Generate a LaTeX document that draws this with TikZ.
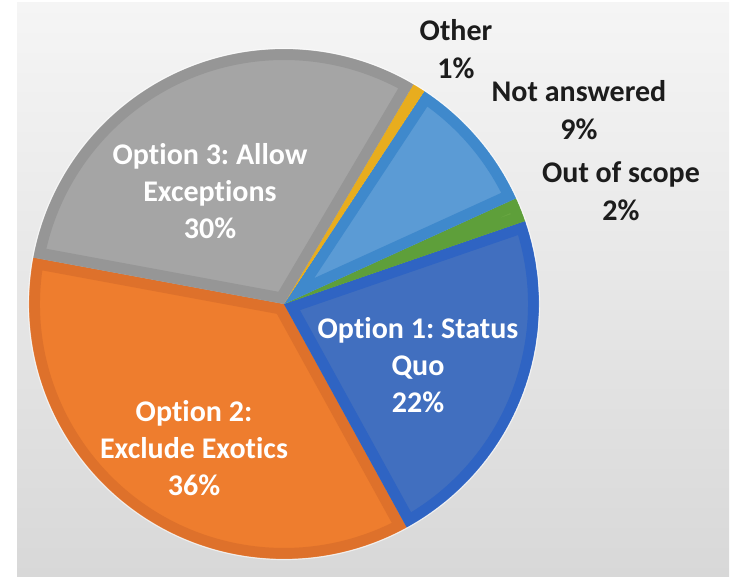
\documentclass[tikz,border=0pt]{standalone}
\usepackage{fontspec}
\setmainfont{Carlito}[Ligatures={NoCommon,NoContextual}]
\frenchspacing
\definecolor{grayL}{HTML}{A5A5A5}
\definecolor{grayD}{HTML}{969696}
\definecolor{orangeL}{HTML}{EE7D2E}
\definecolor{orangeD}{HTML}{DE712B}
\definecolor{blueL}{HTML}{416FBF}
\definecolor{blueD}{HTML}{2F64C3}
\definecolor{lblueL}{HTML}{5B9BD5}
\definecolor{lblueD}{HTML}{3F89CC}
\definecolor{greenL}{HTML}{6AA843}
\definecolor{greenD}{HTML}{5E9F3A}
\definecolor{yellowL}{HTML}{F2B62A}
\definecolor{yellowD}{HTML}{E8AD1E}
\definecolor{panelTop}{HTML}{F5F5F5}
\definecolor{panelBot}{HTML}{D8D8D8}
\definecolor{labeltext}{HTML}{1C1C1C}
\newcommand\mypieslice[4]{%
  \begin{scope}
    \clip (pc) -- ++(#1:255pt) arc[start angle=#1, end angle=#2, radius=255pt] -- cycle;
    \fill[#3] (pc) -- ++(#1:255pt) arc[start angle=#1, end angle=#2, radius=255pt] -- cycle;
    \draw[#4, line width=22pt, line join=miter] (pc) -- ++(#1:255pt) arc[start angle=#1, end angle=#2, radius=255pt] -- cycle;
  \end{scope}}
\tikzset{
  inlabel/.style={text=white, align=center, inner sep=0pt, font=\fontsize{30}{37}\selectfont\bfseries},
  outlabel/.style={text=labeltext, align=center, inner sep=0pt, font=\fontsize{30}{38}\selectfont\bfseries}
}
\begin{document}
\begin{tikzpicture}[x=1pt,y=1pt]
  \useasboundingbox (0,0) rectangle (732,580);
  \fill[white] (0,0) rectangle (732,580);
  \shade[top color=panelTop, bottom color=panelBot] (17,3) rectangle (729,577);
  \coordinate (pc) at (284,276);
  % slices
  \mypieslice{169.5}{298.8}{orangeL}{orangeD}
  \mypieslice{298.8}{379}{blueL}{blueD}
  \mypieslice{379}{384.5}{greenL}{greenD}
  \mypieslice{384.5}{416.6}{lblueL}{lblueD}
  \mypieslice{416.6}{419.5}{yellowL}{yellowD}
  \mypieslice{419.5}{529.5}{grayL}{grayD}
  \draw[white, opacity=0.6, line width=1.2pt] (pc) circle[radius=255.5pt];
  % labels
  \node[inlabel] (opt3) at (210,389) {Option 3: Allow\\Exceptions\\30\%};
  \node[inlabel] (opt2) at (194,132) {Option 2:\\Exclude Exotics\\36\%};
  \node[inlabel] (opt1) at (418,215) {Option 1: Status\\Quo\\22\%};
  \node[outlabel] (other) at (456,531) {Other\\1\%};
  \node[outlabel] (notans) at (579,470) {Not answered\\9\%};
  \node[outlabel] (oos) at (621,389) {Out of scope\\2\%};
\end{tikzpicture}
\end{document}
